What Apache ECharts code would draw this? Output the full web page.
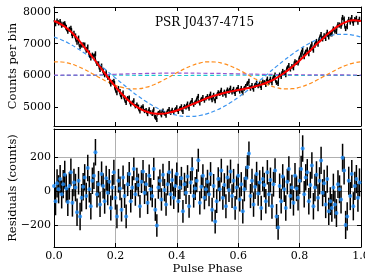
<!DOCTYPE html>
<html><head><meta charset="utf-8">
<script src="https://cdn.jsdelivr.net/npm/echarts@6.0.0/dist/echarts.min.js"></script>
<style>html,body{margin:0;padding:0;background:#fff}#c{width:365px;height:274px}</style>
</head><body><div id="c"></div>
<script>
// ---- data ----
const NBINS = 200;
const counts = [
7746,7634,7717,7660,7698,7586,7610,7628,7512,7395,7454,7484,7254,7325,7245,7050,7176,6907,6958,6964,
6960,6790,6895,6710,6550,6640,6607,6682,6370,6367,6184,6300,6166,6013,6084,5935,5940,5725,5785,5815,
5605,5441,5596,5497,5317,5453,5298,5132,5277,5292,5086,5132,5207,5023,5078,5009,4861,4983,5021,4873,
4900,4777,4924,4832,4779,4926,4684,4590,4811,4850,4738,4890,4807,4728,4855,4932,4816,4914,4823,4906,
4990,4848,4946,5020,4843,5021,4991,5107,4952,5113,5213,5074,5139,5205,5346,5116,5230,5315,5204,5274,
5338,5279,5416,5222,5379,5185,5319,5462,5416,5539,5393,5479,5365,5547,5483,5604,5468,5568,5417,5547,
5626,5495,5595,5444,5584,5658,5734,5824,5585,5685,5556,5675,5764,5663,5742,5606,5795,5778,5702,5890,
5779,5889,5759,5913,6018,5773,5739,6015,5955,6131,6087,6014,6206,6318,6195,6282,6234,6436,6402,6389,
6531,6646,6812,6587,6733,6808,6685,6826,6988,6794,6951,7072,6983,7128,7294,7150,7248,7166,7359,7212,
7315,7311,7467,7403,7389,7595,7590,7556,7827,7777,7482,7543,7765,7686,7828,7649,7764,7800,7685,7771];
const residuals = [
30,-60,45,10,70,-20,40,95,15,-65,30,110,-70,50,20,-125,60,-150,-40,25,
80,-30,135,10,-90,60,90,228,-20,40,-80,100,30,-60,75,-10,55,-100,20,110,
-40,-150,60,15,-110,80,-30,-150,40,100,-60,20,130,-20,70,35,-90,55,115,-10,
40,-70,90,10,-30,130,-110,-203,20,60,-50,95,5,-80,40,110,-20,65,-40,30,
100,-60,20,75,-120,40,-10,85,-90,50,130,-30,15,60,181,-70,25,90,-40,10,
55,-20,100,-110,30,-180,-60,70,10,120,-40,35,-90,80,5,115,-30,60,-100,20,
90,-50,40,-120,10,75,140,220,-30,60,-80,25,100,-15,50,-100,70,35,-60,110,
-20,65,-90,40,120,-150,-215,30,-60,85,10,-100,55,130,-30,20,-70,90,15,-40,
60,130,250,-20,80,110,-60,35,150,-90,20,95,-40,60,180,-10,45,-80,70,-120,
-60,-100,20,-80,-130,40,10,-50,196,120,-200,-150,60,-30,100,-90,30,70,-40,50];
// error bar half-length, one value per group of 10 bins
const errGroups = [83,81,78,74,70,67,66,66,67,68,70,70,71,72,73,75,78,80,82,83];

// fit curves sampled every 0.025 in phase
const FIT_N = 40;
const fitTotal = [7716,7606,7424,7175,6880,6580,6264,5945,5645,5373,5146,4974,4860,4796,4788,4822,4890,4981,5083,5186,
5283,5365,5433,5489,5536,5583,5636,5706,5799,5923,6077,6262,6471,6698,6931,7160,7375,7555,7682,7739,7716];
const harm1 = [7209,7119,7002,6859,6697,6516,6324,6122,5918,5716,5521,5338,5172,5025,4903,4807,4740,4705,4703,4731,
4791,4881,4998,5141,5303,5484,5676,5878,6082,6284,6479,6662,6828,6975,7097,7193,7260,7295,7297,7269,7209];
const harm2 = [6427,6422,6377,6294,6183,6054,5920,5793,5687,5611,5573,5578,5623,5705,5817,5946,6080,6207,6313,6389,
6427,6422,6377,6294,6183,6054,5920,5793,5687,5611,5573,5578,5623,5705,5817,5946,6080,6207,6313,6389,6427];
// small harmonics sampled every 0.1
const SMALL_N = 10;
const harm3 = [6010,6005,6035,6060,6070,6065,6050,6030,6020,6015,6010];
const harm4 = [5995,6000,6005,6000,5995,6000,6005,6000,5995,6000,5995];

const xTicks = [0, 0.2, 0.4, 0.6, 0.8, 1.0];
const topYTicks = [5000, 6000, 7000, 8000];
const resYTicks = [-200, 0, 200];

// ---- build ----
const FONT = 'DejaVu Serif';
const binData = counts.map((c, i) => [i / NBINS, c, errGroups[Math.floor(i / 10)]]);
const resData = residuals.map((r, i) => [i / NBINS, r, errGroups[Math.floor(i / 10)]]);
const curve = (arr, n) => arr.map((v, i) => [i / n, v]);

function errRender(width) {
  return function (params, api) {
    const x = api.value(0), y = api.value(1), e = api.value(2);
    const a = api.coord([x, y - e]), b = api.coord([x, y + e]);
    return { type: 'line', shape: { x1: a[0], y1: a[1], x2: b[0], y2: b[1] },
      style: { stroke: '#000', lineWidth: width } };
  };
}

function xAx(g, pos, labels, grid) {
  const o = {
    type: 'value', gridIndex: g, position: pos, min: 0, max: 1,
    axisLine: { show: true, onZero: false, lineStyle: { color: '#000', width: 1 } },
    axisTick: { show: true, inside: true, length: 4, customValues: xTicks, lineStyle: { color: '#000' } },
    axisLabel: { show: labels, customValues: xTicks, formatter: v => v.toFixed(1), fontFamily: FONT, fontSize: 11, color: '#000', margin: 4 },
    splitLine: { show: grid, lineStyle: { color: '#b0b0b0', width: 1 } }
  };
  if (labels && g === 1) {
    o.name = 'Pulse Phase'; o.nameLocation = 'middle'; o.nameGap = 15;
    o.nameTextStyle = { fontFamily: FONT, fontSize: 11.5, color: '#000' };
  }
  return o;
}
function yAx(g, pos, labels, grid, min, max, ticks) {
  return {
    type: 'value', gridIndex: g, position: pos, min: min, max: max,
    axisLine: { show: true, onZero: false, lineStyle: { color: '#000', width: 1 } },
    axisTick: { show: true, inside: true, length: 4, customValues: ticks, lineStyle: { color: '#000' } },
    axisLabel: { show: labels, customValues: ticks, formatter: v => (v < 0 ? '\u2212' + Math.abs(v) : String(v)), fontFamily: FONT, fontSize: 11, color: '#000', margin: 3 },
    splitLine: { show: grid, lineStyle: { color: '#b0b0b0', width: 1 } }
  };
}

const dash = [4, 2.5];
const option = {
  animation: false,
  backgroundColor: '#fff',
  grid: [
    { left: 54, top: 7, width: 307, height: 119, outerBoundsMode: 'none', containLabel: false },
    { left: 54, top: 129, width: 307, height: 118, outerBoundsMode: 'none', containLabel: false }
  ],
  xAxis: [
    xAx(0, 'bottom', false, false), xAx(0, 'top', false, false),
    xAx(1, 'bottom', true, true), xAx(1, 'top', false, false)
  ],
  yAxis: [
    yAx(0, 'left', true, false, 4400, 8160, topYTicks),
    yAx(0, 'right', false, false, 4400, 8160, topYTicks),
    yAx(1, 'left', true, true, -330, 365, resYTicks),
    yAx(1, 'right', false, false, -330, 365, resYTicks)
  ],
  graphic: [
    { type: 'text', left: 155, top: 17, style: { text: 'PSR J0437-4715', font: '12px "DejaVu Serif"', fill: '#000' } },
    { type: 'text', x: 13, y: 66, rotation: Math.PI / 2,
      style: { text: 'Counts per bin', font: '11.5px "DejaVu Serif"', fill: '#000', align: 'center', verticalAlign: 'middle' } },
    { type: 'text', x: 13, y: 188, rotation: Math.PI / 2,
      style: { text: 'Residuals (counts)', font: '11.5px "DejaVu Serif"', fill: '#000', align: 'center', verticalAlign: 'middle' } }
  ],
  series: [
    { type: 'line', xAxisIndex: 0, yAxisIndex: 0, data: curve(harm4, SMALL_N), smooth: true, showSymbol: false,
      lineStyle: { color: '#1ec8cf', width: 1.2, type: dash } },
    { type: 'line', xAxisIndex: 0, yAxisIndex: 0, data: curve(harm3, SMALL_N), smooth: true, showSymbol: false,
      lineStyle: { color: '#9a55d0', width: 1.2, type: dash } },
    { type: 'line', xAxisIndex: 0, yAxisIndex: 0, data: curve(harm2, FIT_N), smooth: true, showSymbol: false,
      lineStyle: { color: '#ff8c1a', width: 1.2, type: dash } },
    { type: 'line', xAxisIndex: 0, yAxisIndex: 0, data: curve(harm1, FIT_N), smooth: true, showSymbol: false,
      lineStyle: { color: '#3d95f0', width: 1.2, type: dash } },
    { type: 'custom', xAxisIndex: 0, yAxisIndex: 0, data: binData, renderItem: errRender(1.5), clip: true },
    { type: 'line', xAxisIndex: 0, yAxisIndex: 0, data: binData.map(d => [d[0], d[1]]), step: 'middle', showSymbol: false,
      lineStyle: { color: '#000', width: 1.2 } },
    { type: 'line', xAxisIndex: 0, yAxisIndex: 0, data: curve(fitTotal, FIT_N), smooth: true, showSymbol: false,
      lineStyle: { color: '#ff0000', width: 2 } },
    { type: 'custom', xAxisIndex: 2, yAxisIndex: 2, data: resData, renderItem: errRender(1.5), clip: true },
    { type: 'scatter', xAxisIndex: 2, yAxisIndex: 2, data: resData.map(d => [d[0], d[1]]), symbolSize: 4,
      itemStyle: { color: '#1e90ff' } }
  ]
};
const chart = echarts.init(document.getElementById('c'), null, { renderer: 'canvas' });
chart.setOption(option);
</script></body></html>
